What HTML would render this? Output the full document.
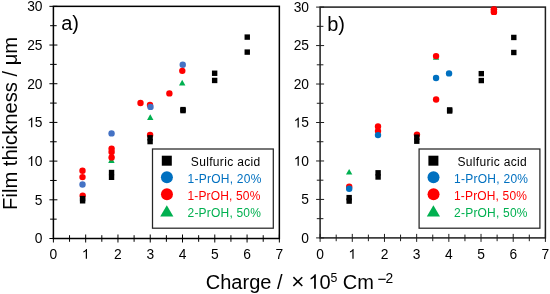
<!DOCTYPE html>
<html><head><meta charset="utf-8"><style>
html,body{margin:0;padding:0;background:#fff;width:550px;height:294px;overflow:hidden}
svg{display:block;will-change:transform}
text{font-family:"Liberation Sans", sans-serif}
</style></head><body>
<svg width="550" height="294" viewBox="0 0 550 294" font-family='"Liberation Sans", sans-serif'>
<rect width="550" height="294" fill="#fff"/>
<polygon points="111.4,156.6 114.6,163.1 108.2,163.1" fill="#00B050"/>
<polygon points="150.25,114.2 153.45,120 147.05,120" fill="#00B050"/>
<polygon points="182.2,79.8 185.4,85.6 179,85.6" fill="#00B050"/>
<circle cx="82.5" cy="170.7" r="3.2" fill="#FF0000"/>
<circle cx="82.5" cy="177.1" r="3.2" fill="#FF0000"/>
<circle cx="82.7" cy="195.6" r="3.2" fill="#FF0000"/>
<circle cx="111.6" cy="148.6" r="3.2" fill="#FF0000"/>
<circle cx="111.6" cy="151.9" r="3.2" fill="#FF0000"/>
<circle cx="111.6" cy="157.4" r="3.2" fill="#FF0000"/>
<circle cx="140.5" cy="103" r="3.2" fill="#FF0000"/>
<circle cx="150" cy="105" r="3.2" fill="#FF0000"/>
<circle cx="150.1" cy="135" r="3.2" fill="#FF0000"/>
<circle cx="169.4" cy="93.4" r="3.2" fill="#FF0000"/>
<circle cx="82.5" cy="184.5" r="3.2" fill="#4472C4"/>
<circle cx="111.55" cy="133.4" r="3.2" fill="#4472C4"/>
<circle cx="150.5" cy="106.9" r="3.2" fill="#4472C4"/>
<circle cx="182.75" cy="64.75" r="3.2" fill="#4472C4"/>
<circle cx="182.3" cy="70.85" r="3.2" fill="#FF0000"/>
<rect x="79.9" y="195.9" width="5.4" height="5.4" fill="#000"/>
<rect x="79.9" y="198.1" width="5.4" height="5.4" fill="#000"/>
<rect x="108.85" y="169.8" width="5.4" height="5.4" fill="#000"/>
<rect x="108.85" y="174.6" width="5.4" height="5.4" fill="#000"/>
<rect x="147.4" y="135.1" width="5.4" height="5.4" fill="#000"/>
<rect x="147.4" y="138.9" width="5.4" height="5.4" fill="#000"/>
<rect x="180.3" y="106.9" width="5.4" height="5.4" fill="#000"/>
<rect x="180.3" y="107.9" width="5.4" height="5.4" fill="#000"/>
<rect x="211.95" y="70.55" width="5.4" height="5.4" fill="#000"/>
<rect x="211.95" y="77.75" width="5.4" height="5.4" fill="#000"/>
<rect x="244.55" y="34.4" width="5.4" height="5.4" fill="#000"/>
<rect x="244.55" y="49.4" width="5.4" height="5.4" fill="#000"/>
<polygon points="349.15,169 352.35,174.5 345.95,174.5" fill="#00B050"/>
<polygon points="436.05,53.6 439.25,59.8 432.85,59.8" fill="#00B050"/>
<circle cx="349.2" cy="186.7" r="3.2" fill="#FF0000"/>
<circle cx="378" cy="126.5" r="3.2" fill="#FF0000"/>
<circle cx="378" cy="131.1" r="3.2" fill="#FF0000"/>
<circle cx="416.95" cy="134.6" r="3.2" fill="#FF0000"/>
<circle cx="436.05" cy="56.1" r="3.2" fill="#FF0000"/>
<circle cx="436.1" cy="99.5" r="3.2" fill="#FF0000"/>
<circle cx="349.2" cy="188.7" r="3.2" fill="#0070C0"/>
<circle cx="378" cy="135.1" r="3.2" fill="#0070C0"/>
<circle cx="436.05" cy="77.95" r="3.2" fill="#0070C0"/>
<circle cx="449.05" cy="73.4" r="3.2" fill="#0070C0"/>
<rect x="346.45" y="194.9" width="5.4" height="5.4" fill="#000"/>
<rect x="346.45" y="198.4" width="5.4" height="5.4" fill="#000"/>
<rect x="375.4" y="170.1" width="5.4" height="5.4" fill="#000"/>
<rect x="375.4" y="174.3" width="5.4" height="5.4" fill="#000"/>
<rect x="414.1" y="134.5" width="5.4" height="5.4" fill="#000"/>
<rect x="414.1" y="138.5" width="5.4" height="5.4" fill="#000"/>
<rect x="446.95" y="107.2" width="5.4" height="5.4" fill="#000"/>
<rect x="446.95" y="108.3" width="5.4" height="5.4" fill="#000"/>
<rect x="478.6" y="70.95" width="5.4" height="5.4" fill="#000"/>
<rect x="478.6" y="77.85" width="5.4" height="5.4" fill="#000"/>
<rect x="511.1" y="34.75" width="5.4" height="5.4" fill="#000"/>
<rect x="511.1" y="49.8" width="5.4" height="5.4" fill="#000"/>
<circle cx="493.95" cy="9.4" r="3.2" fill="#FF0000"/>
<circle cx="493.95" cy="11.9" r="3.2" fill="#FF0000"/>
<rect x="53.4" y="6.35" width="225.95" height="232.15" fill="none" stroke="#000" stroke-width="1.5"/>
<line x1="49.4" y1="238.5" x2="57.4" y2="238.5" stroke="#000" stroke-width="1"/>
<line x1="50.1" y1="219.15" x2="56.7" y2="219.15" stroke="#000" stroke-width="1"/>
<line x1="49.4" y1="199.81" x2="57.4" y2="199.81" stroke="#000" stroke-width="1"/>
<line x1="50.1" y1="180.46" x2="56.7" y2="180.46" stroke="#000" stroke-width="1"/>
<line x1="49.4" y1="161.12" x2="57.4" y2="161.12" stroke="#000" stroke-width="1"/>
<line x1="50.1" y1="141.77" x2="56.7" y2="141.77" stroke="#000" stroke-width="1"/>
<line x1="49.4" y1="122.42" x2="57.4" y2="122.42" stroke="#000" stroke-width="1"/>
<line x1="50.1" y1="103.08" x2="56.7" y2="103.08" stroke="#000" stroke-width="1"/>
<line x1="49.4" y1="83.73" x2="57.4" y2="83.73" stroke="#000" stroke-width="1"/>
<line x1="50.1" y1="64.39" x2="56.7" y2="64.39" stroke="#000" stroke-width="1"/>
<line x1="49.4" y1="45.04" x2="57.4" y2="45.04" stroke="#000" stroke-width="1"/>
<line x1="50.1" y1="25.7" x2="56.7" y2="25.7" stroke="#000" stroke-width="1"/>
<line x1="49.4" y1="6.35" x2="57.4" y2="6.35" stroke="#000" stroke-width="1"/>
<line x1="53.4" y1="234.5" x2="53.4" y2="242.5" stroke="#000" stroke-width="1"/>
<line x1="69.54" y1="235.2" x2="69.54" y2="241.8" stroke="#000" stroke-width="1"/>
<line x1="85.68" y1="234.5" x2="85.68" y2="242.5" stroke="#000" stroke-width="1"/>
<line x1="101.82" y1="235.2" x2="101.82" y2="241.8" stroke="#000" stroke-width="1"/>
<line x1="117.96" y1="234.5" x2="117.96" y2="242.5" stroke="#000" stroke-width="1"/>
<line x1="134.1" y1="235.2" x2="134.1" y2="241.8" stroke="#000" stroke-width="1"/>
<line x1="150.24" y1="234.5" x2="150.24" y2="242.5" stroke="#000" stroke-width="1"/>
<line x1="166.38" y1="235.2" x2="166.38" y2="241.8" stroke="#000" stroke-width="1"/>
<line x1="182.51" y1="234.5" x2="182.51" y2="242.5" stroke="#000" stroke-width="1"/>
<line x1="198.65" y1="235.2" x2="198.65" y2="241.8" stroke="#000" stroke-width="1"/>
<line x1="214.79" y1="234.5" x2="214.79" y2="242.5" stroke="#000" stroke-width="1"/>
<line x1="230.93" y1="235.2" x2="230.93" y2="241.8" stroke="#000" stroke-width="1"/>
<line x1="247.07" y1="234.5" x2="247.07" y2="242.5" stroke="#000" stroke-width="1"/>
<line x1="263.21" y1="235.2" x2="263.21" y2="241.8" stroke="#000" stroke-width="1"/>
<line x1="279.35" y1="234.5" x2="279.35" y2="242.5" stroke="#000" stroke-width="1"/>
<text x="34.83" y="243.4" font-size="13.8" fill="#000">0</text>
<text x="34.83" y="204.71" font-size="13.8" fill="#000">5</text>
<path transform="translate(27.15,166.02) scale(0.00674,-0.00674)" d="M763 0L583 0L583 1147Q518 1085 412 1023Q306 961 222 930L222 1104Q373 1175 486 1276Q599 1377 646 1472L763 1472Z" fill="#000"/><text x="34.83" y="166.02" font-size="13.8" fill="#000">0</text>
<path transform="translate(27.15,127.33) scale(0.00674,-0.00674)" d="M763 0L583 0L583 1147Q518 1085 412 1023Q306 961 222 930L222 1104Q373 1175 486 1276Q599 1377 646 1472L763 1472Z" fill="#000"/><text x="34.83" y="127.33" font-size="13.8" fill="#000">5</text>
<text x="27.15" y="88.63" font-size="13.8" fill="#000">2</text><text x="34.83" y="88.63" font-size="13.8" fill="#000">0</text>
<text x="27.15" y="49.94" font-size="13.8" fill="#000">2</text><text x="34.83" y="49.94" font-size="13.8" fill="#000">5</text>
<text x="27.15" y="11.25" font-size="13.8" fill="#000">3</text><text x="34.83" y="11.25" font-size="13.8" fill="#000">0</text>
<text x="49.56" y="258.8" font-size="13.8" fill="#000">0</text>
<path transform="translate(81.84,258.8) scale(0.00674,-0.00674)" d="M763 0L583 0L583 1147Q518 1085 412 1023Q306 961 222 930L222 1104Q373 1175 486 1276Q599 1377 646 1472L763 1472Z" fill="#000"/>
<text x="114.12" y="258.8" font-size="13.8" fill="#000">2</text>
<text x="146.4" y="258.8" font-size="13.8" fill="#000">3</text>
<text x="178.68" y="258.8" font-size="13.8" fill="#000">4</text>
<text x="210.96" y="258.8" font-size="13.8" fill="#000">5</text>
<text x="243.23" y="258.8" font-size="13.8" fill="#000">6</text>
<text x="275.51" y="258.8" font-size="13.8" fill="#000">7</text>
<rect x="320.1" y="7.1" width="225.3" height="230.8" fill="none" stroke="#1e1e1e" stroke-width="1.5"/>
<line x1="316.1" y1="237.9" x2="324.1" y2="237.9" stroke="#1e1e1e" stroke-width="1"/>
<line x1="316.8" y1="218.67" x2="323.4" y2="218.67" stroke="#1e1e1e" stroke-width="1"/>
<line x1="316.1" y1="199.43" x2="324.1" y2="199.43" stroke="#1e1e1e" stroke-width="1"/>
<line x1="316.8" y1="180.2" x2="323.4" y2="180.2" stroke="#1e1e1e" stroke-width="1"/>
<line x1="316.1" y1="160.97" x2="324.1" y2="160.97" stroke="#1e1e1e" stroke-width="1"/>
<line x1="316.8" y1="141.73" x2="323.4" y2="141.73" stroke="#1e1e1e" stroke-width="1"/>
<line x1="316.1" y1="122.5" x2="324.1" y2="122.5" stroke="#1e1e1e" stroke-width="1"/>
<line x1="316.8" y1="103.27" x2="323.4" y2="103.27" stroke="#1e1e1e" stroke-width="1"/>
<line x1="316.1" y1="84.03" x2="324.1" y2="84.03" stroke="#1e1e1e" stroke-width="1"/>
<line x1="316.8" y1="64.8" x2="323.4" y2="64.8" stroke="#1e1e1e" stroke-width="1"/>
<line x1="316.1" y1="45.57" x2="324.1" y2="45.57" stroke="#1e1e1e" stroke-width="1"/>
<line x1="316.8" y1="26.33" x2="323.4" y2="26.33" stroke="#1e1e1e" stroke-width="1"/>
<line x1="316.1" y1="7.1" x2="324.1" y2="7.1" stroke="#1e1e1e" stroke-width="1"/>
<line x1="320.1" y1="233.9" x2="320.1" y2="241.9" stroke="#1e1e1e" stroke-width="1"/>
<line x1="336.19" y1="234.6" x2="336.19" y2="241.2" stroke="#1e1e1e" stroke-width="1"/>
<line x1="352.29" y1="233.9" x2="352.29" y2="241.9" stroke="#1e1e1e" stroke-width="1"/>
<line x1="368.38" y1="234.6" x2="368.38" y2="241.2" stroke="#1e1e1e" stroke-width="1"/>
<line x1="384.47" y1="233.9" x2="384.47" y2="241.9" stroke="#1e1e1e" stroke-width="1"/>
<line x1="400.56" y1="234.6" x2="400.56" y2="241.2" stroke="#1e1e1e" stroke-width="1"/>
<line x1="416.66" y1="233.9" x2="416.66" y2="241.9" stroke="#1e1e1e" stroke-width="1"/>
<line x1="432.75" y1="234.6" x2="432.75" y2="241.2" stroke="#1e1e1e" stroke-width="1"/>
<line x1="448.84" y1="233.9" x2="448.84" y2="241.9" stroke="#1e1e1e" stroke-width="1"/>
<line x1="464.94" y1="234.6" x2="464.94" y2="241.2" stroke="#1e1e1e" stroke-width="1"/>
<line x1="481.03" y1="233.9" x2="481.03" y2="241.9" stroke="#1e1e1e" stroke-width="1"/>
<line x1="497.12" y1="234.6" x2="497.12" y2="241.2" stroke="#1e1e1e" stroke-width="1"/>
<line x1="513.21" y1="233.9" x2="513.21" y2="241.9" stroke="#1e1e1e" stroke-width="1"/>
<line x1="529.31" y1="234.6" x2="529.31" y2="241.2" stroke="#1e1e1e" stroke-width="1"/>
<line x1="545.4" y1="233.9" x2="545.4" y2="241.9" stroke="#1e1e1e" stroke-width="1"/>
<text x="301.33" y="242.8" font-size="13.8" fill="#000">0</text>
<text x="301.33" y="204.33" font-size="13.8" fill="#000">5</text>
<path transform="translate(293.65,165.87) scale(0.00674,-0.00674)" d="M763 0L583 0L583 1147Q518 1085 412 1023Q306 961 222 930L222 1104Q373 1175 486 1276Q599 1377 646 1472L763 1472Z" fill="#000"/><text x="301.33" y="165.87" font-size="13.8" fill="#000">0</text>
<path transform="translate(293.65,127.4) scale(0.00674,-0.00674)" d="M763 0L583 0L583 1147Q518 1085 412 1023Q306 961 222 930L222 1104Q373 1175 486 1276Q599 1377 646 1472L763 1472Z" fill="#000"/><text x="301.33" y="127.4" font-size="13.8" fill="#000">5</text>
<text x="293.65" y="88.93" font-size="13.8" fill="#000">2</text><text x="301.33" y="88.93" font-size="13.8" fill="#000">0</text>
<text x="293.65" y="50.47" font-size="13.8" fill="#000">2</text><text x="301.33" y="50.47" font-size="13.8" fill="#000">5</text>
<text x="293.65" y="12" font-size="13.8" fill="#000">3</text><text x="301.33" y="12" font-size="13.8" fill="#000">0</text>
<text x="316.26" y="258.8" font-size="13.8" fill="#000">0</text>
<path transform="translate(348.45,258.8) scale(0.00674,-0.00674)" d="M763 0L583 0L583 1147Q518 1085 412 1023Q306 961 222 930L222 1104Q373 1175 486 1276Q599 1377 646 1472L763 1472Z" fill="#000"/>
<text x="380.63" y="258.8" font-size="13.8" fill="#000">2</text>
<text x="412.82" y="258.8" font-size="13.8" fill="#000">3</text>
<text x="445.01" y="258.8" font-size="13.8" fill="#000">4</text>
<text x="477.19" y="258.8" font-size="13.8" fill="#000">5</text>
<text x="509.38" y="258.8" font-size="13.8" fill="#000">6</text>
<text x="541.56" y="258.8" font-size="13.8" fill="#000">7</text>
<circle cx="493.95" cy="9.4" r="3.2" fill="#FF0000"/>
<circle cx="493.95" cy="11.9" r="3.2" fill="#FF0000"/>
<rect x="152.5" y="149" width="120.8" height="79.2" fill="#fff" stroke="#262626" stroke-width="1.25"/>
<rect x="161.8" y="155.7" width="10" height="10" fill="#000"/>
<circle cx="166.9" cy="177.3" r="6" fill="#0070C0"/>
<circle cx="166.95" cy="194.15" r="6" fill="#FF0000"/>
<polygon points="166.8,205.2 173.4,216.6 160.2,216.6" fill="#00B050"/>
<text x="190.8" y="165.8" font-size="12.0" fill="#000" stroke="#000" stroke-width="0" textLength="69.4" lengthAdjust="spacing">Sulfuric acid</text>
<text x="187.5" y="182.8" font-size="12.0" fill="#0070C0" stroke="#0070C0" stroke-width="0" textLength="73.9" lengthAdjust="spacing">1-PrOH, 20%</text>
<text x="187.4" y="199.7" font-size="12.0" fill="#FF0000" stroke="#FF0000" stroke-width="0" textLength="72.9" lengthAdjust="spacing">1-PrOH, 50%</text>
<text x="187.5" y="216.6" font-size="12.0" fill="#00B050" stroke="#00B050" stroke-width="0" textLength="73.4" lengthAdjust="spacing">2-PrOH, 50%</text>
<rect x="419.1" y="149" width="120.8" height="79.2" fill="#fff" stroke="#262626" stroke-width="1.25"/>
<rect x="428.4" y="155.7" width="10" height="10" fill="#000"/>
<circle cx="433.5" cy="177.3" r="6" fill="#0070C0"/>
<circle cx="433.55" cy="194.15" r="6" fill="#FF0000"/>
<polygon points="433.4,205.2 440,216.6 426.8,216.6" fill="#00B050"/>
<text x="457.4" y="165.8" font-size="12.0" fill="#000" stroke="#000" stroke-width="0" textLength="69.4" lengthAdjust="spacing">Sulfuric acid</text>
<text x="454.1" y="182.8" font-size="12.0" fill="#0070C0" stroke="#0070C0" stroke-width="0" textLength="73.9" lengthAdjust="spacing">1-PrOH, 20%</text>
<text x="454" y="199.7" font-size="12.0" fill="#FF0000" stroke="#FF0000" stroke-width="0" textLength="72.9" lengthAdjust="spacing">1-PrOH, 50%</text>
<text x="454.1" y="216.6" font-size="12.0" fill="#00B050" stroke="#00B050" stroke-width="0" textLength="73.4" lengthAdjust="spacing">2-PrOH, 50%</text>
<text x="61.2" y="30.1" font-size="20">a)</text>
<text x="327.2" y="30.6" font-size="20">b)</text>
<text transform="translate(17,209.9) rotate(-90)" font-size="20" textLength="173" lengthAdjust="spacingAndGlyphs">Film thickness / μm</text>
<text x="205.8" y="288.7" font-size="20">Charge /</text>
<text x="291.3" y="289.2" font-size="22.5">×</text>
<path transform="translate(308.4,288.7) scale(0.00977,-0.00977)" d="M763 0L583 0L583 1147Q518 1085 412 1023Q306 961 222 930L222 1104Q373 1175 486 1276Q599 1377 646 1472L763 1472Z" fill="#000"/><text x="319.52" y="288.7" font-size="20" fill="#000">0</text>
<text x="330.4" y="281.9" font-size="12.3">5</text>
<text x="342.8" y="288.7" font-size="20">Cm</text>
<rect x="378.3" y="278.7" width="7.4" height="1.2" fill="#000"/><text x="385.6" y="282.6" font-size="13.8">2</text>
</svg>
</body></html>
